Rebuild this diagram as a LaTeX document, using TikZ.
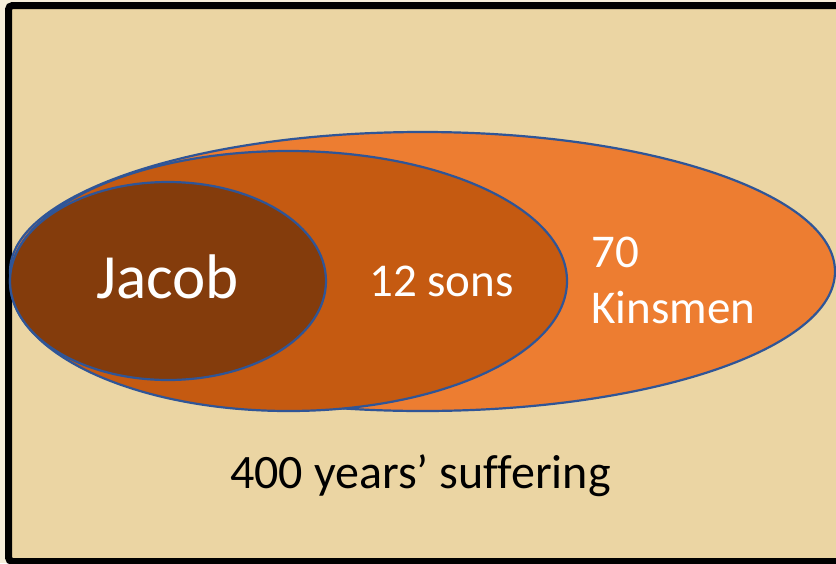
\documentclass[tikz,border=0pt]{standalone}
\usepackage{fontspec}
\setmainfont{Carlito}[Ligatures=NoCommon]
\definecolor{cream}{HTML}{F6EEDA}
\definecolor{beige}{HTML}{EBD5A3}
\definecolor{orA}{HTML}{ED7D31}
\definecolor{orB}{HTML}{C55A11}
\definecolor{orC}{HTML}{843C0C}
\definecolor{edge}{HTML}{2F5597}
\tikzset{
  ring/.style={draw=edge, line width=2.2pt},
  wlabel/.style={text=white, inner sep=0pt, anchor=base west},
}
\begin{document}
\begin{tikzpicture}[x=1pt, y=-1pt]
\useasboundingbox (0,0) rectangle (836,563);
\begin{scope}
\clip (0,0) rectangle (836,563);
\fill[cream] (0,0) rectangle (836,563);
\draw[line width=7pt, fill=beige, rounded corners=4pt] (8.5,5.5) rectangle (870,561.5);
\end{scope}
\coordinate (cK) at (422.5,271.5);
\coordinate (cS) at (288.5,281);
\coordinate (cJ) at (168,281);
\path[ring, fill=orA] (cK) ellipse [x radius=412.5pt, y radius=139.5pt];
\path[ring, fill=orB] (cS) ellipse [x radius=278.5pt, y radius=130pt];
\path[ring, fill=orC] (cJ) ellipse [x radius=158pt, y radius=99pt];
\node[wlabel, font=\fontsize{63}{72}\selectfont] (jacob) at (96,298) {Jacob};
\node[wlabel, font=\fontsize{47}{56}\selectfont] (sons) at (369,296) {12 sons};
\node[wlabel, font=\fontsize{47}{56}\selectfont] (seventy) at (591,267) {70};
\node[wlabel, font=\fontsize{47}{56}\selectfont] (kins) at (591,323) {Kinsmen};
\node[inner sep=0pt, anchor=base west, font=\fontsize{48}{56}\selectfont] (suffer) at (230,488) {400 years’ suffering};
\end{tikzpicture}
\end{document}
